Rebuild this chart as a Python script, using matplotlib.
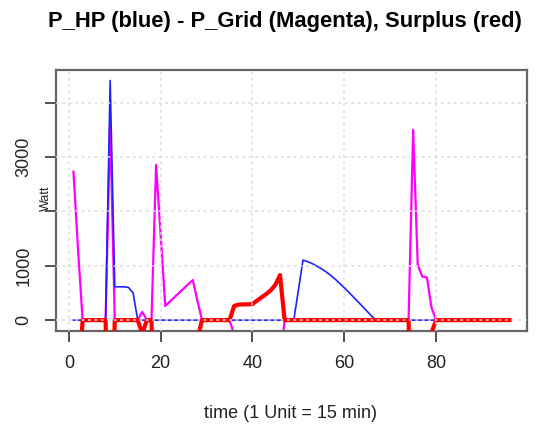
import numpy as np
import matplotlib
matplotlib.use("Agg")
import matplotlib.pyplot as plt

plt.rcParams['font.family'] = ['Liberation Sans', 'DejaVu Sans']

# time index, 1 unit = 15 min
t = np.arange(1, 97)

p_hp = [0, 0, 0, 0, 0, 0, 0, 0, 4407, 613,
        613, 613, 600, 500, 0, 0, 0, 0, 0, 0,
        0, 0, 0, 0, 0, 0, 0, 0, 0, 0,
        0, 0, 0, 0, 0, 0, 0, 0, 0, 0,
        0, 0, 0, 0, 0, 0, 0, 0, 0, 550,
        1105, 1075, 1040, 995, 945, 890, 825, 755, 675, 595,
        510, 425, 335, 250, 160, 70, 0, 0, 0, 0,
        0, 0, 0, 0, 0, 0, 0, 0, 0, 0,
        0, 0, 0, 0, 0, 0, 0, 0, 0, 0,
        0, 0, 0, 0, 0, 0]

p_grid = [2730, 1300, 0, 0, 0, 0, 0, 0, 3630, 0,
          0, 0, 0, 0, 0, 150, 0, 0, 2855, 1560,
          260, 340, 420, 500, 580, 660, 736, 360, 0, 0,
          0, 0, 0, 0, 0, -260, -285, -290, -290, -295,
          -360, -420, -480, -550, -650, -830, 0, 0, 0, 0,
          0, 0, 0, 0, 0, 0, 0, 0, 0, 0,
          0, 0, 0, 0, 0, 0, 0, 0, 0, 0,
          0, 0, 0, 0, 3500, 1010, 800, 785, 230, 0,
          0, 0, 0, 0, 0, 0, 0, 0, 0, 0,
          0, 0, 0, 0, 0, 0]

surplus = [-2730, -1300, 0, 0, 0, 0, 0, 0, -3630, 0,
           0, 0, 0, 0, 0, -250, 0, 0, -2855, -1560,
           -260, -340, -420, -500, -580, -660, -736, -360, 0, 0,
           0, 0, 0, 0, 0, 260, 285, 290, 290, 295,
           360, 420, 480, 550, 650, 830, 0, 0, 0, 0,
           0, 0, 0, 0, 0, 0, 0, 0, 0, 0,
           0, 0, 0, 0, 0, 0, 0, 0, 0, 0,
           0, 0, 0, 0, -3500, -1010, -800, -785, -230, 0,
           0, 0, 0, 0, 0, 0, 0, 0, 0, 0,
           0, 0, 0, 0, 0, 0]

xticks = [0, 20, 40, 60, 80]
yticks = [0, 1000, 2000, 3000, 4000]
ytick_labels = ['0', '1000', '', '3000', '']

fig = plt.figure(figsize=(5.38, 4.28), dpi=100)
ax = fig.add_axes([56 / 538, 1 - 331 / 428, (527 - 56) / 538, (331 - 70) / 428])

ax.plot(t, p_grid, color='magenta', lw=1.6, zorder=2)
ax.plot(t, p_hp, color='#2020ff', lw=1.2, zorder=3)
ax.plot(t, surplus, color='red', lw=3.0, zorder=4)

ax.set_xlim(-2.8, 99.8)
ax.set_ylim(-200, 4600)

# grid drawn on top, like R's grid()
for x in xticks:
    ax.axvline(x, color='#dcdcdc', lw=1.1, ls=(0, (1.8, 2.4)), zorder=5)
for y in yticks:
    ax.axhline(y, color='#dcdcdc', lw=1.1, ls=(0, (1.8, 2.4)), zorder=5)

ax.set_xticks(xticks)
ax.set_xticklabels([str(x) for x in xticks], fontsize=13)
ax.set_yticks(yticks)
ax.set_yticklabels(ytick_labels, fontsize=13, rotation=90, va='center')
ax.tick_params(axis='both', length=8, width=1.2, color='#333333', labelcolor='#222222')
ax.tick_params(axis='x', pad=9)
ax.tick_params(axis='y', pad=9)

for s in ax.spines.values():
    s.set_color('#666666')
    s.set_linewidth(1.6)

fig.text(285 / 538, 1 - 22 / 428, 'P_HP (blue) - P_Grid (Magenta), Surplus (red)',
         ha='center', va='center', fontsize=15.8, fontweight='bold')
fig.text(291 / 538, 1 - 413 / 428, 'time (1 Unit = 15 min)',
         ha='center', va='center', fontsize=13, color='#222222')
fig.text(46 / 538, 1 - 198 / 428, 'Watt', rotation=90,
         ha='center', va='center', fontsize=9, color='#222222')

fig.savefig('out.png', dpi=100)
